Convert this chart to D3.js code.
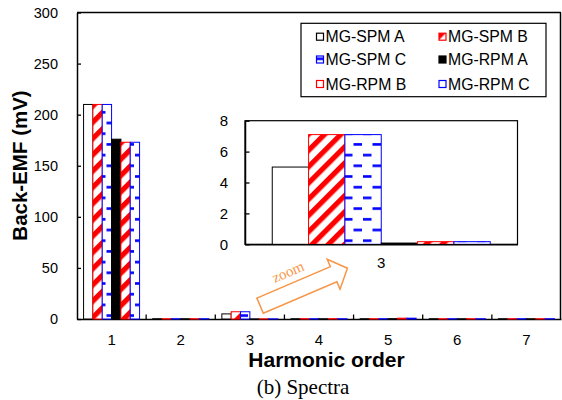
<!DOCTYPE html>
<html><head><meta charset="utf-8">
<script src="https://cdn.jsdelivr.net/npm/d3@7"></script>
<style>body{margin:0;background:#fff;} svg{display:block;}</style>
</head><body>
<svg id="c" width="562" height="400"></svg>
<script>
// ---- data ----
const harmonics = ["1","2","3","4","5","6","7"];
const seriesNames = ["MG-SPM A","MG-SPM B","MG-SPM C","MG-RPM A","MG-RPM B","MG-RPM C"];
const spmA = [210, 0.3, 5.0, 0.3, 0.3, 0.3, 0.3];
const spmB = [210, 0.3, 7.1, 0.3, 0.3, 0.3, 0.3];
const spmC = [210, 0.3, 7.1, 0.3, 0.3, 0.3, 0.3];
const rpmA = [176, 0.2, 0.08, 0.2, 0.3, 0.2, 0.2];
const rpmB = [173, 0.3, 0.17, 0.3, 0.8, 0.3, 0.3];
const rpmC = [173, 0.3, 0.17, 0.3, 0.8, 0.3, 0.3];
const mainTicks = [0, 50, 100, 150, 200, 250, 300];
const insetTicks = [0, 2, 4, 6, 8];
const insetHarmonic = "3";
const yTitle = "Back-EMF (mV)";
const xTitle = "Harmonic order";
const caption = "(b) Spectra";
const zoomLabel = "zoom";

const seriesValues = [spmA, spmB, spmC, rpmA, rpmB, rpmC];
const table = [];
harmonics.forEach((h, i) => seriesNames.forEach((s, j) => table.push({h, s, v: seriesValues[j][i]})));

// ---- styles ----
const RED = "#ff0000", BLUE = "#0000ff", ORANGE = "#f79646";
const style = {
  "MG-SPM A": {fill: "#ffffff", stroke: "#000000", legend: "#ffffff"},
  "MG-SPM B": {fill: "url(#hatchRed)", stroke: RED, legend: "url(#hatchRed)"},
  "MG-SPM C": {fill: "url(#dashBlue)", stroke: BLUE, legend: "url(#dashBlue)"},
  "MG-RPM A": {fill: "#000000", stroke: "#000000", legend: "#000000"},
  "MG-RPM B": {fill: "url(#hatchRed)", stroke: RED, legend: "#ffffff"},
  "MG-RPM C": {fill: "url(#dashBlue)", stroke: BLUE, legend: "#ffffff"}
};
const SANS = "'Liberation Sans', Arial, sans-serif";
const SERIF = "'Liberation Serif', 'Times New Roman', serif";

const svg = d3.select("#c");
const defs = svg.append("defs");
const ph = defs.append("pattern").attr("id", "hatchRed").attr("patternUnits", "userSpaceOnUse")
  .attr("width", 11.5).attr("height", 11.5).attr("patternTransform", "rotate(45)");
ph.append("rect").attr("width", 11.5).attr("height", 11.5).attr("fill", "#fff");
ph.append("rect").attr("width", 5.2).attr("height", 11.5).attr("fill", RED);
const pd = defs.append("pattern").attr("id", "dashBlue").attr("patternUnits", "userSpaceOnUse")
  .attr("width", 19).attr("height", 21.4);
pd.append("rect").attr("width", 19).attr("height", 21.4).attr("fill", "#fff");
pd.append("rect").attr("x", 2).attr("y", 4).attr("width", 8.5).attr("height", 2.6).attr("fill", BLUE);
pd.append("rect").attr("x", 11.5).attr("y", 14.7).attr("width", 8.5).attr("height", 2.6).attr("fill", BLUE);
pd.append("rect").attr("x", -7.5).attr("y", 14.7).attr("width", 8.5).attr("height", 2.6).attr("fill", BLUE);

// ---- main chart ----
const x = d3.scaleBand().domain(harmonics).range([77, 561]);
const bw = x.bandwidth();
const xs = d3.scaleBand().domain(seriesNames).range([bw * 0.095, bw * 0.905]);
const y = d3.scaleLinear().domain([0, 300]).range([319, 12.5]);

const gy = svg.append("g").attr("transform", "translate(77,0)")
  .call(d3.axisLeft(y).tickValues(mainTicks).tickSize(-4).tickSizeOuter(0).tickPadding(19));
gy.select(".domain").attr("stroke", "#000").attr("stroke-width", 1.5);
gy.selectAll(".tick line").attr("stroke", "#000").attr("stroke-width", 1.3);
gy.selectAll("text").attr("font-family", SANS).attr("font-size", 14.5).attr("fill", "#000");

// frame top/right
svg.append("line").attr("x1", 77).attr("x2", 561).attr("y1", y(300)).attr("y2", y(300))
  .attr("stroke", "#000").attr("stroke-width", 1.5);
svg.append("line").attr("x1", 560.5).attr("x2", 560.5).attr("y1", y(300)).attr("y2", y(0))
  .attr("stroke", "#000").attr("stroke-width", 1.5);

const gx = svg.append("g").attr("transform", `translate(0,${y(0)})`)
  .call(d3.axisBottom(x).tickSize(0).tickSizeOuter(0).tickPadding(15.5));
gx.select(".domain").attr("stroke", "#000").attr("stroke-width", 1.5);
gx.selectAll("text").attr("font-family", SANS).attr("font-size", 15).attr("fill", "#000");
gx.selectAll(".bnd").data(harmonics.slice(0, -1)).enter().append("line")
  .attr("x1", d => x(d) + bw).attr("x2", d => x(d) + bw)
  .attr("y1", 0).attr("y2", -4.5).attr("stroke", "#000").attr("stroke-width", 1.3);

svg.append("g").selectAll("rect").data(table).enter().append("rect")
  .attr("x", d => x(d.h) + xs(d.s))
  .attr("width", xs.bandwidth())
  .attr("y", d => y(d.v))
  .attr("height", d => y(0) - y(d.v))
  .attr("fill", d => style[d.s].fill)
  .attr("stroke", d => style[d.s].stroke)
  .attr("stroke-width", 1);

// axis titles
svg.append("text").attr("transform", "translate(27,165.5) rotate(-90)")
  .attr("text-anchor", "middle").attr("font-family", SANS).attr("font-weight", "bold")
  .attr("font-size", 20.5).text(yTitle);
svg.append("text").attr("x", 326.5).attr("y", 366.5).attr("text-anchor", "middle")
  .attr("font-family", SANS).attr("font-weight", "bold").attr("font-size", 21).text(xTitle);
svg.append("text").attr("x", 303).attr("y", 394).attr("text-anchor", "middle")
  .attr("font-family", SERIF).attr("font-size", 21).text(caption);

// ---- legend ----
const lg = svg.append("g");
lg.append("rect").attr("x", 301).attr("y", 23.3).attr("width", 245).attr("height", 73.4)
  .attr("fill", "#fff").attr("stroke", "#000").attr("stroke-width", 1.2);
const rowY = [36.7, 59.5, 84];
const colX = [316, 438.5];
seriesNames.forEach((s, i) => {
  const cx = colX[i % 2], cy = rowY[Math.floor(i / 2)];
  lg.append("rect").attr("x", cx + 0.5).attr("y", cy - 3.5).attr("width", 7).attr("height", 7)
    .attr("fill", style[s].legend).attr("stroke", style[s].stroke).attr("stroke-width", 1.2);
  lg.append("text").attr("x", cx + 9.5).attr("y", cy).attr("dy", "0.36em")
    .attr("font-family", SANS).attr("font-size", 15.8).text(s);
});

// ---- inset ----
const xi = d3.scaleBand().domain([insetHarmonic]).range([245, 517.5]);
const ibw = xi.bandwidth();
const xis = d3.scaleBand().domain(seriesNames).range([ibw * 0.1, ibw * 0.9]);
const yi = d3.scaleLinear().domain([0, 8]).range([244.3, 120.7]);
const ins = svg.append("g");
ins.append("rect").attr("x", 245).attr("y", yi(8)).attr("width", 517.5 - 245).attr("height", yi(0) - yi(8))
  .attr("fill", "#fff").attr("stroke", "#000").attr("stroke-width", 1.2);
const insetData = table.filter(d => d.h === insetHarmonic);
ins.append("g").selectAll("rect").data(insetData).enter().append("rect")
  .attr("x", d => xi(d.h) + xis(d.s))
  .attr("width", xis.bandwidth())
  .attr("y", d => yi(d.v))
  .attr("height", d => yi(0) - yi(d.v))
  .attr("fill", d => style[d.s].fill)
  .attr("stroke", d => style[d.s].stroke)
  .attr("stroke-width", 1);
const giy = ins.append("g").attr("transform", "translate(245,0)")
  .call(d3.axisLeft(yi).tickValues(insetTicks).tickSize(-4.5).tickSizeOuter(0).tickPadding(17));
giy.select(".domain").attr("stroke", "#000").attr("stroke-width", 1.5);
giy.selectAll(".tick line").attr("stroke", "#000").attr("stroke-width", 1.3);
giy.selectAll("text").attr("font-family", SANS).attr("font-size", 15).attr("fill", "#000");
const gix = ins.append("g").attr("transform", `translate(0,${yi(0)})`)
  .call(d3.axisBottom(xi).tickSize(0).tickSizeOuter(0).tickPadding(13));
gix.select(".domain").attr("stroke", "#000").attr("stroke-width", 1.5);
gix.selectAll("text").attr("font-family", SANS).attr("font-size", 15).attr("fill", "#000");

// ---- zoom arrow ----
const ar = svg.append("g").attr("transform", "translate(260.1,305.7) rotate(-23.2)");
ar.append("path")
  .attr("d", "M0,-8.25 L80,-8.25 L80,-16.3 L95,0 L80,16.3 L80,8.25 L0,8.25 Z")
  .attr("fill", "none").attr("stroke", ORANGE).attr("stroke-width", 1.5).attr("stroke-linejoin", "miter");
ar.append("text").attr("x", 39).attr("y", -15).attr("text-anchor", "middle")
  .attr("font-family", SERIF).attr("font-size", 15).attr("fill", ORANGE).text(zoomLabel);
</script>
</body></html>
